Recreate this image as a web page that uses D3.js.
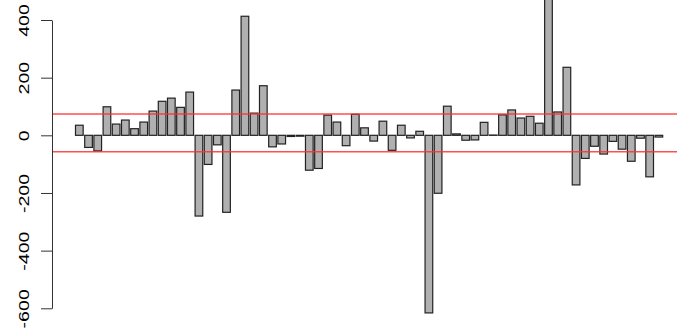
<!DOCTYPE html>
<html>
<head>
<meta charset="utf-8">
<script src="https://cdn.jsdelivr.net/npm/d3@7"></script>
<style>
  html, body { margin: 0; padding: 0; background: #fff; }
  svg { display: block; }
</style>
</head>
<body>
<svg id="chart" width="677" height="330"></svg>
<script>
// Bar heights, in series order
const values = [
  35, -42, -54, 99, 39, 53, 23, 46, 84, 118,
  129, 97, 150, -280, -101, -33, -267, 157, 413, 77,
  172, -40, -30, -4, -3, -121, -115, 70, 46, -36,
  73, 26, -20, 49, -52, 35, -9, 14, -616, -201,
  101, 5, -17, -16, 45, 1, 71, 88, 60, 66,
  42, 505, 81, 236, -172, -80, -38, -65, -21, -48,
  -90, -10, -144, -6
];
// Horizontal reference levels
const refLines = [74, -57];
// Y axis ticks
const yTicks = [400, 200, 0, -200, -400, -600];

const svg = d3.select("#chart");

const x = d3.scaleBand()
  .domain(d3.range(values.length))
  .range([75.5, 662.7])
  .paddingInner(1 / 6)
  .paddingOuter(0);

const y = d3.scaleLinear()
  .domain([-600, 400])
  .range([308.3, 20]);

// bars
svg.append("g")
  .selectAll("rect")
  .data(values)
  .join("rect")
  .attr("x", (d, i) => x(i))
  .attr("width", x.bandwidth())
  .attr("y", d => y(Math.max(0, d)))
  .attr("height", d => Math.abs(y(d) - y(0)))
  .attr("fill", "#b0b0b0")
  .attr("stroke", "#222")
  .attr("stroke-width", 1.2);

// reference lines
svg.append("g")
  .selectAll("line")
  .data(refLines)
  .join("line")
  .attr("x1", 52)
  .attr("x2", 677)
  .attr("y1", d => y(d))
  .attr("y2", d => y(d))
  .attr("stroke", "#ff3030")
  .attr("stroke-opacity", 0.85)
  .attr("stroke-width", 1.3);

// y axis
const axis = d3.axisLeft(y)
  .tickValues(yTicks)
  .tickSize(11)
  .tickSizeOuter(0)
  .tickPadding(0)
  .tickFormat(d => String(d));

const gAxis = svg.append("g")
  .attr("transform", "translate(52,0)")
  .call(axis);

gAxis.select(".domain").attr("stroke", "#333").attr("stroke-width", 1);
gAxis.selectAll(".tick line").attr("stroke", "#333").attr("stroke-width", 1);
gAxis.selectAll(".tick text")
  .attr("x", null)
  .attr("dy", null)
  .attr("text-anchor", "middle")
  .attr("dominant-baseline", "central")
  .attr("transform", "translate(-28,0) rotate(-90) scale(1.4,1)")
  .attr("fill", "#000")
  .style("font-family", "'Liberation Sans', Arial, sans-serif")
  .style("font-size", "14px");
</script>
</body>
</html>
